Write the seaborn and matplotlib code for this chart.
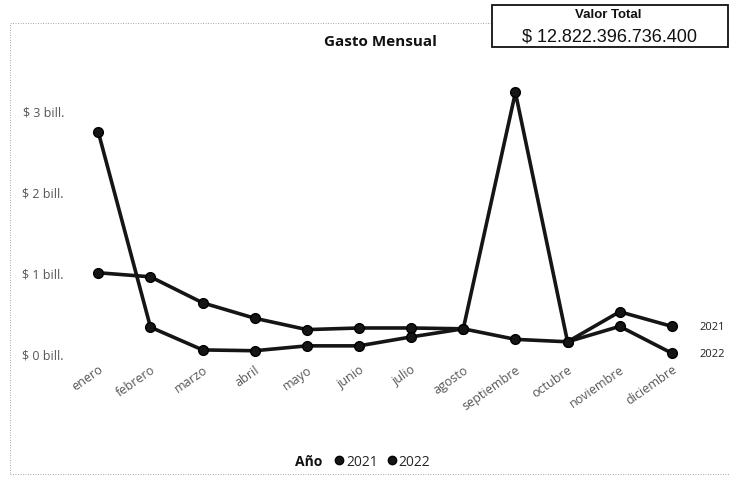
import numpy as np
import pandas as pd
import matplotlib
matplotlib.use('Agg')
from matplotlib import pyplot as plt
from matplotlib.lines import Line2D
from matplotlib.patches import Rectangle
import seaborn as sns

# data (billones de pesos)
meses = ['enero', 'febrero', 'marzo', 'abril', 'mayo', 'junio', 'julio',
         'agosto', 'septiembre', 'octubre', 'noviembre', 'diciembre']
gasto_2021 = [1.00, 0.95, 0.63, 0.44, 0.30, 0.32, 0.32, 0.31, 0.18, 0.15, 0.52, 0.34]
gasto_2022 = [2.73, 0.33, 0.05, 0.04, 0.10, 0.10, 0.21, 0.31, 3.22, 0.15, 0.34, 0.01]
anios = ['2021', '2022']
yticks = [0, 1, 2, 3]
ytick_labels = ['$ 0 bill.', '$ 1 bill.', '$ 2 bill.', '$ 3 bill.']
valor_total = '$ 12.822.396.736.400'

df = pd.DataFrame({
    'mes': meses * 2,
    'anio': [anios[0]] * 12 + [anios[1]] * 12,
    'valor': gasto_2021 + gasto_2022,
})

sns.set_theme(style='white')
plt.rcParams['font.family'] = ['Open Sans', 'DejaVu Sans']

fig = plt.figure(figsize=(7.3, 4.81), dpi=100)
ax = fig.add_axes([0.099, 0.262, 0.857, 0.591])

colores = {'2021': '#151515', '2022': '#151515'}
sns.lineplot(data=df, x='mes', y='valor', hue='anio', palette=colores,
             marker='o', markersize=7, linewidth=2.6, sort=False,
             markeredgecolor='#000000', markeredgewidth=1.0,
             legend=False, ax=ax, clip_on=False)

ax.set_xlim(-0.5, 11.5)
ax.set_ylim(0, 3.5)
ax.set_yticks(yticks)
ax.set_yticklabels(ytick_labels, fontsize=9, color='#555555')
ax.set_xlabel('')
ax.set_ylabel('')
sns.despine(ax=ax, left=True, bottom=True)
ax.tick_params(axis='both', length=0)
ax.tick_params(axis='y', pad=6)
ax.tick_params(axis='x', pad=6)
plt.setp(ax.get_xticklabels(), rotation=35, ha='right', rotation_mode='anchor',
         fontsize=9, color='#555555')

# series labels at the right end
for anio, serie in zip(anios, [gasto_2021, gasto_2022]):
    ax.annotate(anio, xy=(11, serie[-1]), xytext=(28, 0),
                textcoords='offset pixels', va='center', ha='left',
                fontsize=8, color='#222222', annotation_clip=False)

# chart border (dotted)
fig.patches.append(Rectangle((10 / 730, 6 / 481), 740 / 730, 451 / 481,
                             transform=fig.transFigure, fill=False,
                             linestyle=(0, (1, 2)), linewidth=0.6,
                             edgecolor='#888888'))

fig.text(380 / 730, 1 - 42 / 481, 'Gasto Mensual', ha='center', va='center',
         fontsize=11, fontweight='bold', color='#111111')

# Valor total box
fig.patches.append(Rectangle((492 / 730, 1 - 48 / 481), 236 / 730, 42 / 481,
                             transform=fig.transFigure, fill=True,
                             facecolor='white', linewidth=1.3,
                             edgecolor='#111111'))
fig.text(608 / 730, 1 - 15 / 481, 'Valor Total', ha='center', va='center',
         fontsize=9.5, fontweight='bold', family='Liberation Sans', color='#111111')
fig.text(610 / 730, 1 - 37 / 481, valor_total, ha='center', va='center',
         fontsize=13, family='Liberation Sans', color='#111111')

# legend
fig.text(309 / 730, 1 - 462 / 481, 'Año', ha='center', va='center',
         fontsize=10, fontweight='bold', color='#111111')
handles = [Line2D([], [], linestyle='none', marker='o', markersize=6,
                  color=colores[a], markeredgecolor='#000000') for a in anios]
fig.legend(handles, anios, loc='center', bbox_to_anchor=(382 / 730, 1 - 462 / 481),
           ncol=2, frameon=False, fontsize=10, handletextpad=0.1,
           columnspacing=0.6, handlelength=0.8)

fig.savefig('out.png', dpi=100)
